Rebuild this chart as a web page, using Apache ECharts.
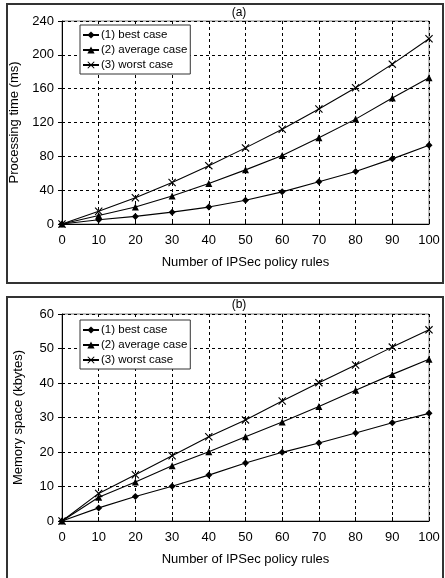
<!DOCTYPE html>
<html>
<head>
<meta charset="utf-8">
<script src="https://cdn.jsdelivr.net/npm/echarts@6/dist/echarts.min.js"></script>
<style>
html, body { margin: 0; padding: 0; background: #fff; }
#chart { width: 445px; height: 578px; }
</style>
</head>
<body>
<div id="chart"></div>
<script>
// number of IPSec policy rules
const rules = [0, 10, 20, 30, 40, 50, 60, 70, 80, 90, 100];
const seriesNames = ['(1) best case', '(2) average case', '(3) worst case'];

// (a) processing time (ms)
const timeBest = [0, 5, 9, 14, 20, 28, 38, 50, 62, 77, 93];
const timeAvg = [0, 10, 20, 33, 48, 64, 81, 102, 124, 149, 173];
const timeWorst = [0, 15, 31, 49, 69, 90, 112, 136, 161, 189, 219];

// (b) memory space (kbytes)
const memBest = [0, 3.8, 7.1, 10.1, 13.3, 16.8, 19.9, 22.6, 25.5, 28.5, 31.2];
const memAvg = [0, 6.9, 11.3, 16, 20.1, 24.4, 28.7, 33.2, 37.9, 42.5, 46.9];
const memWorst = [0, 8.0, 13.4, 18.9, 24.4, 29.3, 34.8, 40.1, 45.2, 50.4, 55.4];

const crossPath = 'path://M0,1L1,0L5,4L9,0L10,1L6,5L10,9L9,10L5,6L1,10L0,9L4,5Z';
const symbols = ['diamond', 'triangle', crossPath];
const symbolSizes = [7, 7, 8];
const font = 'Liberation Sans, Arial, sans-serif';

function pairs(ys) {
    return rules.map((x, i) => [x, ys[i]]);
}

function makeXAxis(gridIndex) {
    return {
        type: 'value', gridIndex: gridIndex, min: 0, max: 100, interval: 10,
        name: 'Number of IPSec policy rules', nameLocation: 'middle', nameGap: 32,
        nameTextStyle: { color: '#000', fontSize: 13, fontFamily: font },
        axisLine: { lineStyle: { color: '#000', width: 1 } },
        axisTick: { inside: true, length: 4, lineStyle: { color: '#000' } },
        axisLabel: { color: '#000', fontSize: 13, fontFamily: font, margin: 10 },
        splitLine: { show: true, lineStyle: { color: '#000', type: [3, 3], width: 1 } }
    };
}

function makeYAxis(gridIndex, name, max, interval) {
    return {
        type: 'value', gridIndex: gridIndex, min: 0, max: max, interval: interval,
        name: name, nameLocation: 'middle', nameGap: 37,
        nameTextStyle: { color: '#000', fontSize: 13, fontFamily: font },
        axisLine: { show: true, lineStyle: { color: '#000', width: 1 } },
        axisTick: { show: true, length: 4, lineStyle: { color: '#000' } },
        axisLabel: { color: '#000', fontSize: 13, fontFamily: font, margin: 8 },
        splitLine: { show: true, lineStyle: { color: '#000', type: [3, 3], width: 1 } }
    };
}

function makeSeries(index, values, axisIndex) {
    return {
        name: seriesNames[index], type: 'line',
        xAxisIndex: axisIndex, yAxisIndex: axisIndex,
        data: pairs(values),
        symbol: symbols[index], symbolSize: symbolSizes[index],
        showSymbol: true,
        lineStyle: { color: '#000', width: 1.1 },
        itemStyle: { color: '#000', borderWidth: 0 },
        emphasis: { disabled: true },
        animation: false
    };
}

function makeLegend(top) {
    return {
        orient: 'vertical', left: 80, top: top,
        itemWidth: 16, itemHeight: 9, itemGap: 3,
        padding: [4, 3, 3, 2],
        borderColor: '#333', borderWidth: 1, backgroundColor: '#fff',
        textStyle: { color: '#000', fontSize: 11.5, fontFamily: font, padding: [0, 0, 0, -3] },
        data: seriesNames
    };
}

const chart = echarts.init(document.getElementById('chart'));
chart.setOption({
    animation: false,
    textStyle: { fontFamily: font },
    graphic: [
        { type: 'rect', shape: { x: 7, y: 4, width: 436, height: 279 }, style: { fill: 'none', stroke: '#333', lineWidth: 2 }, z: -1 },
        { type: 'rect', shape: { x: 7, y: 297, width: 436, height: 300 }, style: { fill: 'none', stroke: '#333', lineWidth: 2 }, z: -1 }
    ],
    title: [
        { text: '(a)', left: 239, top: 7, padding: 0, textAlign: 'center', textStyle: { fontSize: 12, fontWeight: 'normal', color: '#000', fontFamily: font } },
        { text: '(b)', left: 239, top: 299, padding: 0, textAlign: 'center', textStyle: { fontSize: 12, fontWeight: 'normal', color: '#000', fontFamily: font } }
    ],
    legend: [
        Object.assign(makeLegend(25), { id: 'la' }),
        Object.assign(makeLegend(320), { id: 'lb' })
    ],
    grid: [
        { left: 62, top: 21, width: 367, height: 203, show: true, borderColor: '#808080', borderWidth: 1 },
        { left: 62, top: 314, width: 367, height: 207, show: true, borderColor: '#808080', borderWidth: 1 }
    ],
    xAxis: [makeXAxis(0), makeXAxis(1)],
    yAxis: [
        makeYAxis(0, 'Processing time (ms)', 240, 40),
        makeYAxis(1, 'Memory space (kbytes)', 60, 10)
    ],
    series: [
        makeSeries(0, timeBest, 0),
        makeSeries(1, timeAvg, 0),
        makeSeries(2, timeWorst, 0),
        makeSeries(0, memBest, 1),
        makeSeries(1, memAvg, 1),
        makeSeries(2, memWorst, 1)
    ]
});
</script>
</body>
</html>
